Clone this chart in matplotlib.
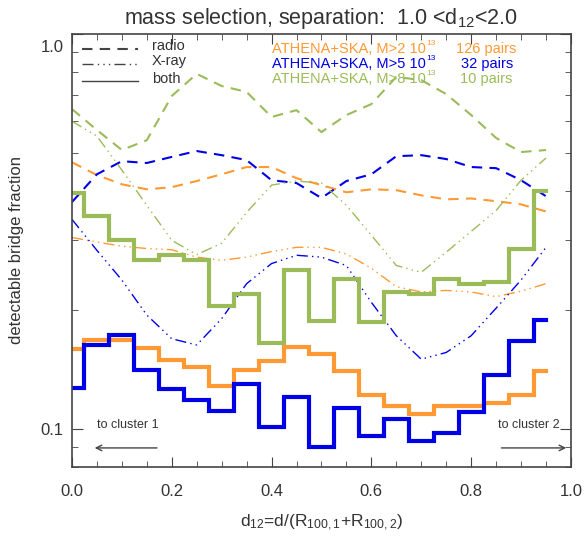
import matplotlib

matplotlib.use("Agg")
import matplotlib.pyplot as plt
import matplotlib.transforms as mtransforms
import numpy as np

plt.rcParams["font.family"] = ["Liberation Sans", "DejaVu Sans"]
plt.rcParams["mathtext.default"] = "regular"

# bin centres along the bridge
d12 = [0.00, 0.05, 0.10, 0.15, 0.20, 0.25, 0.30, 0.35, 0.40, 0.45,
       0.50, 0.55, 0.60, 0.65, 0.70, 0.75, 0.80, 0.85, 0.90, 0.95]

# M>2e13 (126 pairs)
radio_m2 = [0.473, 0.439, 0.416, 0.404, 0.409, 0.424, 0.441, 0.460, 0.460, 0.431,
            0.414, 0.397, 0.404, 0.402, 0.390, 0.381, 0.383, 0.377, 0.370, 0.355]
xray_m2 = [0.305, 0.297, 0.290, 0.286, 0.284, 0.272, 0.267, 0.272, 0.281, 0.288,
           0.288, 0.277, 0.255, 0.229, 0.222, 0.224, 0.222, 0.216, 0.223, 0.233]
both_m2 = [0.159, 0.168, 0.168, 0.160, 0.149, 0.143, 0.128, 0.141, 0.148, 0.161,
           0.155, 0.140, 0.122, 0.114, 0.109, 0.114, 0.114, 0.116, 0.122, 0.140]

# M>5e13 (32 pairs)
radio_m5 = [0.375, 0.441, 0.476, 0.471, 0.488, 0.505, 0.493, 0.479, 0.426, 0.419,
            0.384, 0.424, 0.441, 0.490, 0.493, 0.482, 0.460, 0.457, 0.426, 0.388]
xray_m5 = [0.339, 0.283, 0.238, 0.194, 0.169, 0.163, 0.190, 0.233, 0.262, 0.275,
           0.272, 0.259, 0.209, 0.172, 0.150, 0.156, 0.172, 0.202, 0.238, 0.288]
both_m5 = [0.127, 0.163, 0.173, 0.141, 0.126, 0.1185, 0.111, 0.130, 0.101, 0.120,
           0.090, 0.113, 0.096, 0.106, 0.093, 0.0977, 0.110, 0.137, 0.167, 0.189]

# M>8e13 (10 pairs)
radio_m8 = [0.645, 0.571, 0.508, 0.538, 0.696, 0.792, 0.738, 0.713, 0.616, 0.641,
            0.564, 0.623, 0.664, 0.778, 0.764, 0.704, 0.623, 0.545, 0.502, 0.508]
xray_m8 = [0.601, 0.551, 0.452, 0.368, 0.300, 0.276, 0.295, 0.353, 0.414, 0.424,
           0.419, 0.368, 0.309, 0.259, 0.249, 0.280, 0.316, 0.357, 0.426, 0.485]
both_m8 = [0.395, 0.345, 0.300, 0.268, 0.275, 0.268, 0.204, 0.219, 0.165, 0.252,
           0.187, 0.239, 0.186, 0.222, 0.219, 0.240, 0.233, 0.235, 0.285, 0.400]

muestras = [
    ("ATHENA+SKA, M>2 10", "126 pairs", "#FF9933", radio_m2, xray_m2, both_m2),
    ("ATHENA+SKA, M>5 10", "32 pairs", "#0000E6", radio_m5, xray_m5, both_m5),
    ("ATHENA+SKA, M>8 10", "10 pairs", "#9BBB59", radio_m8, xray_m8, both_m8),
]

DASH = (5, 3.5)
DASH_DOTS = (8, 3, 1, 3, 1, 3, 1, 3)

fig = plt.figure(figsize=(5.85, 5.38), dpi=100)
ax = fig.add_axes([0.123, 0.132, 0.853, 0.805])

for nombre, pares, color, radio, xray, both in muestras:
    ax.plot(d12, radio, color=color, lw=1.5, dashes=DASH)
    ax.plot(d12, xray, color=color, lw=1.0, dashes=DASH_DOTS)
for nombre, pares, color, radio, xray, both in muestras:
    ax.plot(d12, both, color=color, lw=3.0, drawstyle="steps-mid",
            solid_joinstyle="miter")

ax.set_yscale("log")
ax.set_xlim(0.0, 1.0)
ax.set_ylim(0.08, 1.0)
ax.set_xticks([0.0, 0.2, 0.4, 0.6, 0.8, 1.0])
ax.set_xticks(np.arange(0.0, 1.0001, 0.05), minor=True)
ax.set_xticklabels(["0.0", "0.2", "0.4", "0.6", "0.8", "1.0"])
ax.set_yticks([0.1, 1.0])
ax.set_yticklabels(["0.1", "1.0"])
ax.set_yticks([0.08, 0.09, 0.2, 0.3, 0.4, 0.5, 0.6, 0.7, 0.8, 0.9], minor=True)
ax.set_yticklabels([], minor=True)
ax.tick_params(which="both", direction="in", top=True, right=True,
               color="#444444", labelsize=12, labelcolor="#333333")
ax.tick_params(axis="x", which="major", length=7, pad=12)
ax.tick_params(axis="y", which="major", length=8, pad=6)
ax.tick_params(which="minor", length=4)
for sp in ax.spines.values():
    sp.set_color("#444444")
    sp.set_linewidth(1.2)

# la etiqueta 1.0 queda un poco por debajo del borde
desplazar = mtransforms.ScaledTranslation(0, -9 / 72, fig.dpi_scale_trans)
etiqueta_top = ax.get_yticklabels()[1]
etiqueta_top.set_transform(etiqueta_top.get_transform() + desplazar)

ax.set_title("mass selection, separation:  1.0 <d$_{12}$<2.0", fontsize=15.5,
             color="#333333", pad=7)
ax.set_xlabel("d$_{12}$=d/(R$_{100,1}$+R$_{100,2}$)", fontsize=12.5,
              color="#333333", labelpad=10)
ax.set_ylabel("detectable bridge fraction", fontsize=12, color="#333333",
              labelpad=12)

# leyenda de estilos de linea
estilos = [("radio", dict(lw=1.5, dashes=DASH), 0.965),
           ("X-ray", dict(lw=1.0, dashes=DASH_DOTS), 0.931),
           ("both", dict(lw=1.0), 0.891)]
for texto, kw, yy in estilos:
    ax.plot([0.020, 0.132], [yy, yy], color="#444444", transform=ax.transAxes, **kw)
    ax.text(0.160, yy + 0.006, texto, transform=ax.transAxes, fontsize=10.5,
            color="#333333", va="center", ha="left")

# etiquetas de las muestras
for (nombre, pares, color, *_), yy in zip(muestras, [0.965, 0.931, 0.897]):
    t = ax.text(0.401, yy, nombre, transform=ax.transAxes, fontsize=10.5,
                color=color, va="center", ha="left")
    ax.annotate("13", xy=(1.0, 0.88), xycoords=t, xytext=(0.2, 0),
                textcoords="offset points", fontsize=6, color=color,
                ha="left", va="center")
    ax.text(0.831, yy, pares, transform=ax.transAxes, fontsize=10.5,
            color=color, va="center", ha="center")

# direccion hacia cada cumulo
ax.text(0.05, 0.102, "to cluster 1", fontsize=9, color="#333333",
        ha="left", va="center")
ax.annotate("", xy=(0.04, 0.0894), xytext=(0.176, 0.0894),
            arrowprops=dict(arrowstyle="->", color="#444444", lw=1.0))
ax.text(0.978, 0.102, "to cluster 2", fontsize=9, color="#333333",
        ha="right", va="center")
ax.annotate("", xy=(0.996, 0.0894), xytext=(0.855, 0.0894),
            arrowprops=dict(arrowstyle="->", color="#444444", lw=1.0))

plt.savefig("out.png", dpi=100)
plt.close()
